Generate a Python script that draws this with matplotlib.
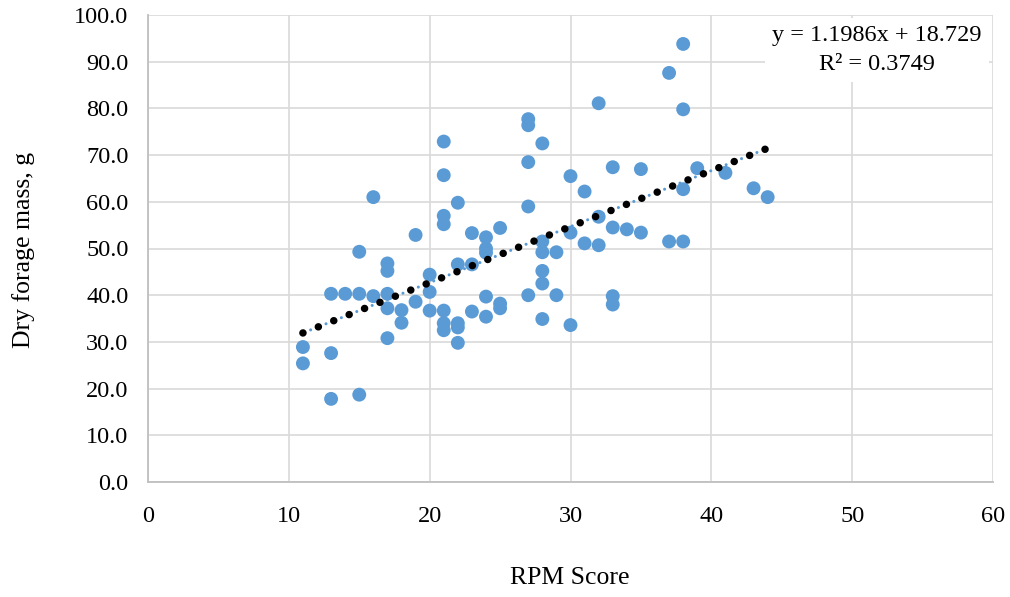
import matplotlib

matplotlib.use("Agg")
import matplotlib.pyplot as plt
import numpy as np

# RPM score vs dry forage mass (g) per plot
rpm = [11, 11,
       13, 13, 13,
       14,
       15, 15, 15,
       16, 16,
       17, 17, 17, 17, 17,
       18, 18,
       19, 19,
       20, 20, 20,
       21, 21, 21, 21, 21, 21, 21,
       22, 22, 22, 22, 22,
       23, 23, 23,
       24, 24, 24, 24, 24,
       25, 25, 25,
       27, 27, 27, 27, 27,
       28, 28, 28, 28, 28, 28,
       29, 29,
       30, 30, 30,
       31, 31,
       32, 32, 32,
       33, 33, 33, 33,
       34,
       35, 35,
       37, 37,
       38, 38, 38, 38,
       39, 41, 43, 44]
mass = [28.9, 25.4,
        40.3, 27.6, 17.8,
        40.3,
        49.3, 40.3, 18.7,
        61.0, 39.8,
        46.8, 45.2, 40.3, 37.2, 30.8,
        36.8, 34.1,
        52.9, 38.6,
        44.4, 40.7, 36.7,
        72.9, 65.7, 57.0, 55.2, 36.7, 34.0, 32.5,
        59.8, 46.6, 34.0, 33.1, 29.8,
        53.3, 46.6, 36.5,
        52.4, 50.0, 49.1, 39.7, 35.4,
        54.4, 38.2, 37.2,
        77.7, 76.4, 68.5, 59.0, 40.0,
        72.5, 51.5, 49.2, 45.2, 42.5, 34.9,
        49.2, 40.0,
        65.5, 53.4, 33.6,
        62.2, 51.1,
        81.1, 56.8, 50.7,
        67.4, 54.5, 39.8, 38.0,
        54.1,
        67.0, 53.4,
        87.6, 51.5,
        93.8, 79.8, 62.7, 51.5,
        67.2, 66.2, 62.9, 61.0]

# linear trend as reported on the chart
slope, intercept, r2 = 1.1986, 18.729, 0.3749

x_ticks = [0, 10, 20, 30, 40, 50, 60]
y_ticks = [0, 10, 20, 30, 40, 50, 60, 70, 80, 90, 100]

BLUE = "#5b9bd5"
GRID = "#d9d9d9"
AXIS = "#bfbfbf"

plt.rcParams["font.family"] = ["Liberation Serif", "DejaVu Serif"]

fig = plt.figure(figsize=(10.1, 5.97), dpi=100)
ax = fig.add_axes([148 / 1010, 115 / 597, 845 / 1010, 467 / 597])

ax.scatter(rpm, mass, s=100, color=BLUE, edgecolor="none", zorder=3)

tx = np.array([min(rpm), max(rpm)])
ty = slope * tx + intercept
ax.plot(tx, ty, color=BLUE, lw=2.2, dashes=(0.01, 2.7),
        dash_capstyle="round", zorder=4)
ax.plot(tx, ty, color="black", lw=5.4, dashes=(0.01, 2.2),
        dash_capstyle="round", zorder=5)

ax.set_xlim(0, 60)
ax.set_ylim(0, 100)
ax.set_xticks(x_ticks)
ax.set_yticks(y_ticks)
ax.set_yticklabels([f"{v:.1f}" for v in y_ticks])
ax.tick_params(length=0, labelsize=17.5, colors="black")
ax.tick_params(axis="x", pad=17)
ax.tick_params(axis="y", pad=14)
ax.grid(color=GRID, lw=1.2, zorder=0)
ax.set_axisbelow(True)
for s in ("top", "right"):
    ax.spines[s].set_visible(False)
for s in ("left", "bottom"):
    ax.spines[s].set_color(AXIS)
    ax.spines[s].set_linewidth(1.3)

ax.text(0.863, 0.925, f"y = {slope}x + {intercept}\nR² = {r2}",
        transform=ax.transAxes, ha="center", va="center", fontsize=17.5,
        multialignment="center", linespacing=1.45, zorder=6,
        bbox=dict(boxstyle="square,pad=0.3", facecolor="white", edgecolor="none"))

fig.text(24 / 1010, 1 - 250 / 597, "Dry forage mass, g", rotation=90,
         ha="center", va="center", fontsize=18.5)
fig.text(570 / 1010, 1 - 578 / 597, "RPM Score", ha="center", va="center", fontsize=18.5)

fig.savefig("out.png", dpi=100)
